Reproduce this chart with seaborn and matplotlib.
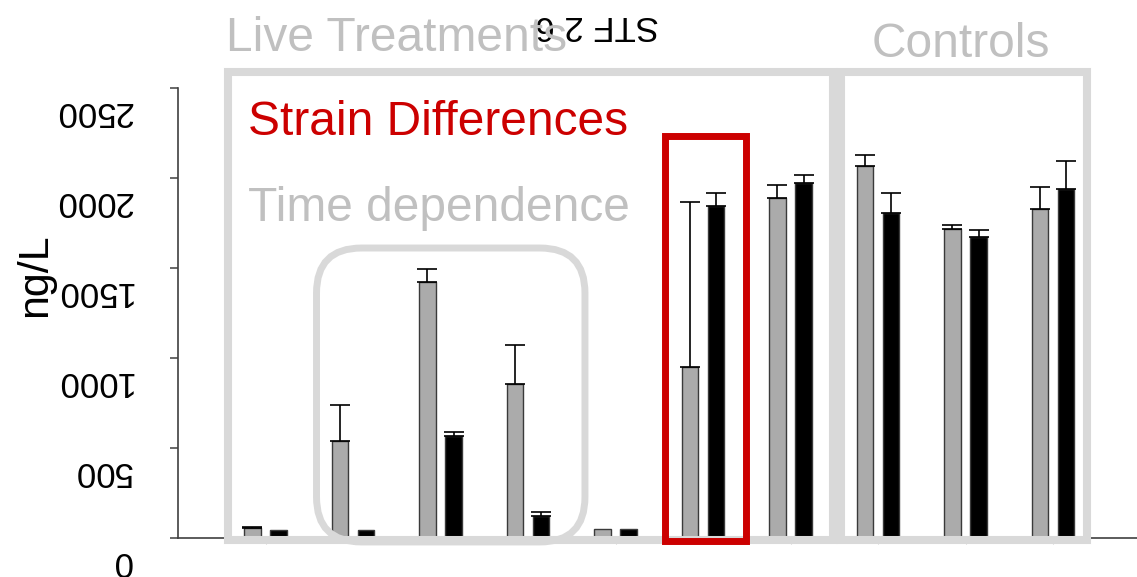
import matplotlib
matplotlib.use("Agg")
import matplotlib.pyplot as plt
import numpy as np
import pandas as pd
import seaborn as sns
from matplotlib.patches import FancyBboxPatch
from matplotlib.transforms import ScaledTranslation, blended_transform_factory

# ---- data -------------------------------------------------------------
groups = ["G1", "G2", "G3", "G4", "G5", "G6", "G7", "G8", "G9", "G10"]
series = ["t1", "t2"]
t1_values = [55, 540, 1420, 855, 50, 950, 1890, 2065, 1715, 1830]
t1_errors = [5, 200, 72, 217, 0, 917, 72, 61, 22, 122]
t2_values = [45, 45, 567, 122, 50, 1845, 1972, 1806, 1672, 1939]
t2_errors = [0, 0, 20, 22, 0, 72, 44, 111, 39, 155]
y_ticks = [0, 500, 1000, 1500, 2000, 2500]
y_tick_labels = ["0", "500", "1000", "1500", "2000", "2500"]

df = pd.DataFrame({
    "group": groups * 2,
    "series": [series[0]] * len(groups) + [series[1]] * len(groups),
    "value": t1_values + t2_values,
})

# ---- style ------------------------------------------------------------
sns.set_style("white")
plt.rcParams["font.family"] = ["Liberation Sans", "DejaVu Sans"]

W, H, DPI = 1137, 577, 100
fig = plt.figure(figsize=(W / DPI, H / DPI), dpi=DPI)
ax = fig.add_axes([178 / W, 39 / H, (W - 178) / W, 450 / H])

GRAY_BAR = "#ababab"
LIGHT = "#d9d9d9"
TEXT_GRAY = "#c0c0c0"
RED = "#cc0000"

sns.barplot(data=df, x="group", y="value", hue="series", order=groups,
            hue_order=series, palette=[GRAY_BAR, "black"], width=0.6, gap=0.37,
            edgecolor="#3a3a3a", linewidth=1.0, errorbar=None, legend=False,
            ax=ax, zorder=2)

# upper-only error bars on top of every bar
for container, errs in zip(ax.containers, [t1_errors, t2_errors]):
    for bar, e in zip(container, errs):
        if e > 0:
            ax.errorbar(bar.get_x() + bar.get_width() / 2, bar.get_height(),
                        yerr=[[0], [e]], fmt="none", ecolor="black",
                        elinewidth=1.2, capsize=7, capthick=1.2, zorder=3)

ax.set_xlim(-1, 9.96)
ax.set_ylim(0, 2500)
ax.set_xlabel("")
ax.set_ylabel("")
for side in ("top", "right"):
    ax.spines[side].set_visible(False)
for side in ("left", "bottom"):
    ax.spines[side].set_color("#404040")
    ax.spines[side].set_linewidth(1.2)
ax.set_yticks(y_ticks)
ax.tick_params(axis="y", direction="out", length=6, width=1.1,
               color="#404040", labelleft=False, left=True)
ax.tick_params(axis="x", direction="out", length=4, width=0.8,
               color="#cccccc", labelbottom=False, bottom=True)

# upside-down value labels, set slightly below their ticks
lab_tr = blended_transform_factory(fig.transFigure, ax.transData) + \
    ScaledTranslation(0, -0.235, fig.dpi_scale_trans)
for v, s in zip(y_ticks, y_tick_labels):
    ax.text(132 / W, v, s, transform=lab_tr, rotation=180, ha="right",
            va="center", fontsize=25, color="black", clip_on=False)

fig.text(35 / W, 1 - 275 / H, "ng/L", rotation=90, ha="center", va="center",
         fontsize=31, color="black")

# upside-down title
fig.text(597 / W, 1 - 25 / H, "STF 2 6", rotation=180, ha="center",
         va="center", fontsize=25, color="black", zorder=1)


# ---- frames around groups of bars --------------------------------------
def frame(x0, x1, y0, y1, color, lw, radius=0.0):
    fig.canvas.draw()
    p0 = ax.transData.transform((x0, y0)) / DPI
    p1 = ax.transData.transform((x1, y1)) / DPI
    style = (f"round,pad=0,rounding_size={radius}" if radius > 0
             else "square,pad=0")
    patch = FancyBboxPatch((p0[0], p0[1]), p1[0] - p0[0], p1[1] - p0[1],
                           boxstyle=style, transform=fig.dpi_scale_trans,
                           fill=False, edgecolor=color, linewidth=lw,
                           zorder=6, clip_on=False)
    fig.add_artist(patch)


frame(-0.43, 6.486, -11, 2589, LIGHT, 5.8)          # live treatments
frame(6.577, 9.389, -11, 2589, LIGHT, 5.8)          # controls
frame(0.583, 3.651, -22, 1611, LIGHT, 5.0, 0.45)    # time dependence
frame(4.571, 5.486, -17, 2236, RED, 5.0)            # strain differences

# ---- annotations ------------------------------------------------------
fig.text(226 / W, 1 - 51 / H, "Live Treatments", ha="left", va="baseline",
         fontsize=34.5, color=TEXT_GRAY, zorder=7)
fig.text(961 / W, 1 - 57 / H, "Controls", ha="center", va="baseline",
         fontsize=34.5, color=TEXT_GRAY, zorder=7)
fig.text(248 / W, 1 - 135 / H, "Strain Differences", ha="left",
         va="baseline", fontsize=34.5, color=RED, zorder=7)
fig.text(248 / W, 1 - 221 / H, "Time dependence", ha="left", va="baseline",
         fontsize=34.5, color=TEXT_GRAY, zorder=7)

fig.savefig("out.png", dpi=DPI)
